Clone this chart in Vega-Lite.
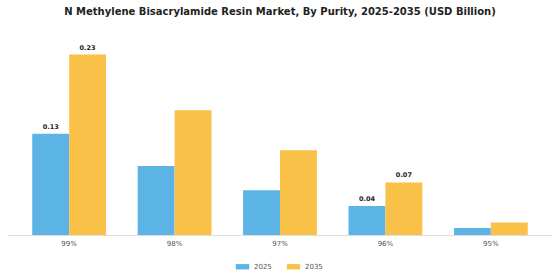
{
  "$schema": "https://vega.github.io/schema/vega-lite/v6.json",
  "width": 544,
  "height": 200,
  "autosize": {"type": "none"},
  "padding": {"left": 8, "top": 35, "right": 8, "bottom": 45},
  "background": "white",
  "title": {
    "text": "N Methylene Bisacrylamide Resin Market, By Purity, 2025-2035 (USD Billion)",
    "fontSize": 10,
    "font": "DejaVu Sans",
    "fontWeight": "bold",
    "color": "#222222",
    "anchor": "middle",
    "frame": "group",
    "offset": 18
  },
  "data": {
    "values": [
      {"purity": "99%", "year": "2025", "value": 0.129, "label": "0.13"},
      {"purity": "99%", "year": "2035", "value": 0.23, "label": "0.23"},
      {"purity": "98%", "year": "2025", "value": 0.088, "label": ""},
      {"purity": "98%", "year": "2035", "value": 0.159, "label": ""},
      {"purity": "97%", "year": "2025", "value": 0.057, "label": ""},
      {"purity": "97%", "year": "2035", "value": 0.108, "label": ""},
      {"purity": "96%", "year": "2025", "value": 0.037, "label": "0.04"},
      {"purity": "96%", "year": "2035", "value": 0.067, "label": "0.07"},
      {"purity": "95%", "year": "2025", "value": 0.009, "label": ""},
      {"purity": "95%", "year": "2035", "value": 0.016, "label": ""}
    ]
  },
  "encoding": {
    "x": {
      "field": "purity",
      "type": "nominal",
      "sort": ["99%", "98%", "97%", "96%", "95%"],
      "scale": {"paddingInner": 0.3, "paddingOuter": 0.23},
      "axis": {
        "title": null,
        "labelAngle": 0,
        "labelFontSize": 7,
        "labelFont": "DejaVu Sans",
        "labelColor": "#555555",
        "domainColor": "#dddddd",
        "ticks": false,
        "labelPadding": 4
      }
    },
    "xOffset": {"field": "year", "type": "nominal", "scale": {"paddingInner": 0, "paddingOuter": 0}},
    "y": {
      "field": "value",
      "type": "quantitative",
      "scale": {"domain": [0, 0.255]},
      "axis": null
    }
  },
  "layer": [
    {
      "mark": {"type": "bar"},
      "encoding": {
        "color": {
          "field": "year",
          "type": "nominal",
          "scale": {"domain": ["2025", "2035"], "range": ["#5CB3E5", "#F9C147"]},
          "legend": {
            "title": null,
            "orient": "none",
            "legendX": 227,
            "legendY": 224,
            "direction": "horizontal",
            "symbolType": "M-1,-0.4H1V0.4H-1Z",
            "symbolSize": 180,
            "labelFontSize": 7,
            "labelFont": "DejaVu Sans",
            "labelColor": "#555555",
            "columnPadding": 14
          }
        }
      }
    },
    {
      "mark": {"type": "text", "dy": -7, "fontSize": 6.5, "fontWeight": "bold", "font": "DejaVu Sans", "color": "#222222"},
      "encoding": {
        "text": {"field": "label"}
      }
    }
  ],
  "config": {
    "view": {"stroke": null}
  }
}
